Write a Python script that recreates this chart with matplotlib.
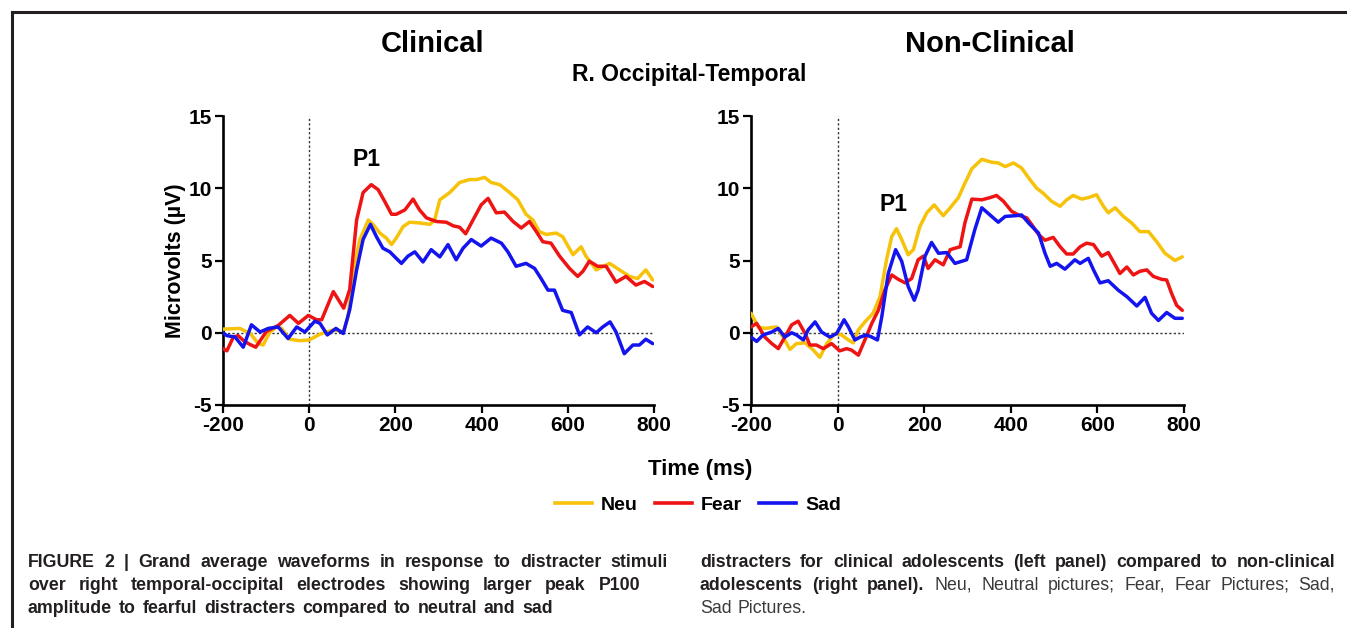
import matplotlib
matplotlib.use("Agg")
import matplotlib.pyplot as plt
from matplotlib import font_manager
from matplotlib.lines import Line2D

# ---------------- data ----------------
x_ticks = [-200, 0, 200, 400, 600, 800]
y_ticks = [-5, 0, 5, 10, 15]
series_names = ["Neu", "Fear", "Sad"]
panel_titles = ["Clinical", "Non-Clinical"]

clin_neu_t = [-200, -161, -137, -118, -107, -91, -76, -64, -45, -22, 0, 25, 56, 79, 90, 102, 117, 137, 148, 164,
              179, 191, 202, 218, 233, 256, 280, 291, 303, 326, 349, 372, 388, 407, 422, 442, 465, 484, 503, 519,
              534, 550, 573, 588, 612, 631, 642, 666, 697, 720, 743, 762, 781, 797]
clin_neu_v = [0.25, 0.3, -0.05, -0.75, -0.85, 0.05, 0.4, 0.3, -0.45, -0.55, -0.5, -0.1, 0.2, 0.07, 1.1, 4.1, 6.4,
              7.8, 7.5, 6.9, 6.55, 6.1, 6.55, 7.35, 7.65, 7.6, 7.5, 7.8, 9.2, 9.7, 10.4, 10.6, 10.6, 10.75, 10.4,
              10.25, 9.7, 9.2, 8.2, 7.8, 7.0, 6.8, 6.9, 6.65, 5.4, 5.95, 5.3, 4.35, 4.8, 4.35, 3.9, 3.75, 4.35, 3.65]

clin_fear_t = [-200, -191, -176, -165, -150, -138, -124, -99, -72, -45, -25, -2, 17, 29, 56, 80, 94, 110, 125, 144,
               160, 175, 191, 202, 222, 241, 256, 272, 295, 318, 334, 349, 363, 380, 399, 415, 434, 453, 473, 492,
               511, 527, 542, 561, 581, 604, 623, 635, 650, 669, 689, 712, 735, 758, 778, 797]
clin_fear_v = [-1.1, -1.25, -0.3, -0.2, -0.6, -0.8, -1.0, 0.1, 0.5, 1.2, 0.65, 1.2, 0.9, 0.9, 2.85, 1.7, 3.0, 7.8,
               9.7, 10.25, 9.9, 9.1, 8.2, 8.2, 8.5, 9.25, 8.5, 7.95, 7.7, 7.65, 7.4, 7.3, 6.85, 7.8, 8.85, 9.3, 8.3,
               8.35, 7.7, 7.25, 7.7, 7.0, 6.3, 6.2, 5.3, 4.45, 3.9, 4.25, 4.95, 4.6, 4.6, 3.5, 3.9, 3.3, 3.55, 3.2]

clin_sad_t = [-200, -191, -172, -153, -134, -114, -95, -72, -49, -29, -10, 13, 25, 42, 62, 79, 94, 110, 125, 142,
              156, 171, 187, 202, 214, 229, 245, 264, 283, 303, 322, 341, 357, 376, 399, 422, 446, 461, 480, 503,
              523, 538, 554, 569, 588, 608, 627, 646, 666, 681, 698, 712, 731, 751, 766, 781, 797]
clin_sad_v = [0.0, -0.2, -0.3, -1.0, 0.55, 0.05, 0.3, 0.4, -0.4, 0.4, 0.05, 0.8, 0.65, -0.15, 0.3, -0.05, 1.6,
              4.35, 6.45, 7.5, 6.65, 5.85, 5.6, 5.15, 4.8, 5.3, 5.6, 4.9, 5.75, 5.25, 6.1, 5.05, 5.85, 6.45, 6.0,
              6.55, 6.2, 5.6, 4.6, 4.8, 4.45, 3.75, 2.95, 2.95, 1.55, 1.4, -0.15, 0.4, 0.0, 0.4, 0.75, 0.05, -1.45,
              -0.85, -0.85, -0.45, -0.75]

nonc_neu_t = [-200, -183, -168, -141, -126, -110, -95, -75, -56, -41, -25, -6, 9, 25, 36, 48, 63, 82, 98, 113, 125,
              136, 148, 163, 175, 190, 206, 223, 244, 260, 279, 294, 310, 333, 356, 371, 387, 406, 425, 444, 460,
              475, 494, 514, 529, 544, 564, 579, 598, 614, 625, 641, 660, 679, 698, 718, 737, 756, 779, 796]
nonc_neu_v = [1.35, 0.4, 0.3, 0.4, -0.3, -1.15, -0.75, -0.7, -1.2, -1.7, -0.75, -0.05, -0.15, -0.5, -0.7, 0.2,
              0.75, 1.35, 2.5, 5.05, 6.65, 7.2, 6.45, 5.4, 5.75, 7.35, 8.3, 8.85, 8.1, 8.65, 9.35, 10.35, 11.35,
              12.0, 11.8, 11.75, 11.5, 11.75, 11.4, 10.6, 10.0, 9.65, 9.1, 8.75, 9.2, 9.5, 9.25, 9.35, 9.55, 8.75,
              8.3, 8.65, 8.05, 7.6, 7.0, 7.0, 6.3, 5.5, 5.0, 5.25]

nonc_fear_t = [-200, -187, -168, -152, -137, -122, -106, -91, -75, -64, -49, -33, -14, 5, 21, 32, 48, 63, 79, 94,
               109, 125, 140, 156, 171, 186, 198, 209, 225, 244, 260, 271, 283, 294, 310, 333, 352, 367, 383, 402,
               421, 437, 448, 464, 479, 498, 514, 529, 544, 560, 575, 591, 610, 625, 641, 652, 668, 683, 698, 714,
               729, 748, 760, 771, 783, 796]
nonc_fear_v = [0.4, 0.65, -0.3, -0.75, -1.1, -0.3, 0.55, 0.8, -0.05, -0.85, -0.85, -1.1, -0.75, -1.25, -1.1, -1.2,
               -1.55, -0.5, 0.65, 1.55, 2.95, 4.0, 3.7, 3.45, 3.75, 5.05, 5.3, 4.45, 5.05, 4.7, 5.75, 5.85, 5.95,
               7.6, 9.25, 9.2, 9.35, 9.5, 9.1, 8.4, 8.1, 7.95, 7.5, 6.8, 6.4, 6.6, 5.95, 5.45, 5.45, 5.95, 6.2, 6.1,
               5.3, 5.55, 4.7, 4.1, 4.55, 4.0, 4.25, 4.35, 3.9, 3.7, 3.65, 2.75, 1.9, 1.55]

nonc_sad_t = [-200, -187, -172, -152, -137, -122, -106, -95, -79, -68, -52, -37, -18, -2, 15, 25, 40, 52, 67, 79,
              92, 102, 117, 134, 148, 163, 177, 186, 202, 217, 233, 252, 271, 298, 317, 333, 352, 371, 387, 410,
              425, 444, 464, 479, 491, 506, 525, 548, 560, 579, 591, 606, 625, 648, 668, 691, 710, 725, 741, 760,
              779, 796]
nonc_sad_v = [-0.3, -0.6, -0.15, 0.05, 0.3, -0.3, 0.0, -0.15, -0.5, 0.2, 0.75, 0.05, -0.3, -0.05, 0.9, 0.4, -0.5,
              -0.3, -0.15, -0.3, -0.5, 1.1, 4.1, 5.75, 4.95, 3.2, 2.25, 2.95, 5.3, 6.25, 5.5, 5.55, 4.8, 5.05, 7.15,
              8.65, 8.15, 7.65, 8.05, 8.1, 8.15, 7.5, 6.9, 5.5, 4.6, 4.8, 4.4, 5.05, 4.8, 5.15, 4.35, 3.45, 3.6,
              2.95, 2.5, 1.85, 2.45, 1.35, 0.85, 1.4, 1.0, 1.0]

p1_pos = [(132, 12.0), (128, 8.9)]

colors = ["#F7C20A", "#EE1414", "#1414EE"]
INK = "#231f20"


def has_font(name):
    try:
        font_manager.findfont(font_manager.FontProperties(family=name), fallback_to_default=False)
        return True
    except Exception:
        return False


MAIN = ["Liberation Sans", "DejaVu Sans"]
NARROW = "Liberation Sans Narrow" if has_font("Liberation Sans Narrow") else "Liberation Sans"
plt.rcParams["font.family"] = MAIN
plt.rcParams["axes.unicode_minus"] = False

W, H = 1347, 628
fig = plt.figure(figsize=(W / 100, H / 100), dpi=100)


def px_axes(x0, x1, ytop, ybot):
    return fig.add_axes([x0 / W, 1 - ybot / H, (x1 - x0) / W, (ybot - ytop) / H])


axL = px_axes(223, 654, 116, 405)
axR = px_axes(751, 1184, 116, 405)

panels = [
    (axL, [(clin_neu_t, clin_neu_v), (clin_fear_t, clin_fear_v), (clin_sad_t, clin_sad_v)]),
    (axR, [(nonc_neu_t, nonc_neu_v), (nonc_fear_t, nonc_fear_v), (nonc_sad_t, nonc_sad_v)]),
]

for i, (ax, series) in enumerate(panels):
    ax.set_xlim(-200, 800)
    ax.set_ylim(-5, 15)
    ax.set_xticks(x_ticks)
    ax.set_yticks(y_ticks)
    ax.spines[["top", "right"]].set_visible(False)
    for s in ("left", "bottom"):
        ax.spines[s].set_linewidth(1.9)
        ax.spines[s].set_color("black")
    ax.tick_params(direction="out", length=5.5, width=1.6, labelsize=15, pad=2.5)
    for lab in ax.get_xticklabels() + ax.get_yticklabels():
        lab.set_fontweight("bold")
    ax.axvline(0, color="#333333", lw=1.0, ls=(0, (1.6, 1.6)), zorder=1)
    ax.axhline(0, color="#333333", lw=1.0, ls=(0, (1.6, 1.6)), zorder=1)
    for (t, v), c in zip(series, colors):
        ax.plot(t, v, color=c, lw=2.5, solid_joinstyle="round", solid_capstyle="round", zorder=3)
    ax.text(p1_pos[i][0], p1_pos[i][1], "P1", fontsize=16.5, fontweight="bold", ha="center", va="center")
    ax.patch.set_alpha(0)

axL.set_ylabel("Microvolts (\u00b5V)", fontsize=15.5, fontweight="bold", labelpad=2)

fig.text(433 / W, 1 - 44 / H, panel_titles[0], fontsize=21, fontweight="bold", ha="center", va="center")
fig.text(990 / W, 1 - 44 / H, panel_titles[1], fontsize=21, fontweight="bold", ha="center", va="center")
fig.text(689 / W, 1 - 74 / H, "R. Occipital-Temporal", fontsize=16.5, fontweight="bold", ha="center", va="center")
fig.text(700 / W, 1 - 470 / H, "Time (ms)", fontsize=16, fontweight="bold", ha="center", va="center")

handles = [Line2D([], [], color=c, lw=2.6) for c in colors]
fig.legend(handles, series_names, loc="center", bbox_to_anchor=(698 / W, 1 - 505 / H), ncol=3, frameon=False,
           prop={"family": MAIN, "weight": "bold", "size": 14}, handlelength=1.9, handletextpad=0.45,
           columnspacing=0.9)

# frame
fig.add_artist(Line2D([12 / W, 1], [1 - 12 / H, 1 - 12 / H], transform=fig.transFigure, color=INK, lw=2.2))
fig.add_artist(Line2D([12 / W, 12 / W], [0, 1 - 12 / H], transform=fig.transFigure, color=INK, lw=2.2))

# ---------------- caption ----------------
CAP_FS = 12.8
renderer = fig.canvas.get_renderer()


def caption_line(segments, x0, y, width=None):
    words = []
    for txt, wt in segments:
        for w in txt.split():
            words.append((w, wt))
    arts, widths = [], []
    for w, wt in words:
        col = INK if wt == "bold" else "#3a3a3a"
        t = fig.text(0, 0, w, fontsize=CAP_FS, family=[NARROW, "DejaVu Sans"], weight=wt, color=col,
                     va="baseline", ha="left")
        widths.append(t.get_window_extent(renderer).width)
        arts.append(t)
    probe = fig.text(0, 0, "a a", fontsize=CAP_FS, family=[NARROW], weight="normal")
    probe2 = fig.text(0, 0, "aa", fontsize=CAP_FS, family=[NARROW], weight="normal")
    sp = probe.get_window_extent(renderer).width - probe2.get_window_extent(renderer).width
    probe.remove()
    probe2.remove()
    if width is not None and len(words) > 1:
        gap = max((width - sum(widths)) / (len(words) - 1), sp * 0.8)
    else:
        gap = sp * 1.3
    x = x0
    for t, wd in zip(arts, widths):
        t.set_position((x / W, 1 - y / H))
        x += wd + gap


LX, RX = 28, 700
base = [567, 590, 613]
caption_line([("FIGURE 2 | Grand average waveforms in response to distracter stimuli", "bold")], LX, base[0], 640)
caption_line([("over right temporal-occipital electrodes showing larger peak P100", "bold")], LX, base[1], 612)
caption_line([("amplitude to fearful distracters compared to neutral and sad", "bold")], LX, base[2], 525)
caption_line([("distracters for clinical adolescents (left panel) compared to non-clinical", "bold")], RX, base[0], 635)
caption_line([("adolescents (right panel).", "bold"),
              ("Neu, Neutral pictures; Fear, Fear Pictures; Sad,", "normal")], RX, base[1], 635)
caption_line([("Sad Pictures.", "normal")], RX, base[2], None)

fig.savefig("out.png", dpi=100)
